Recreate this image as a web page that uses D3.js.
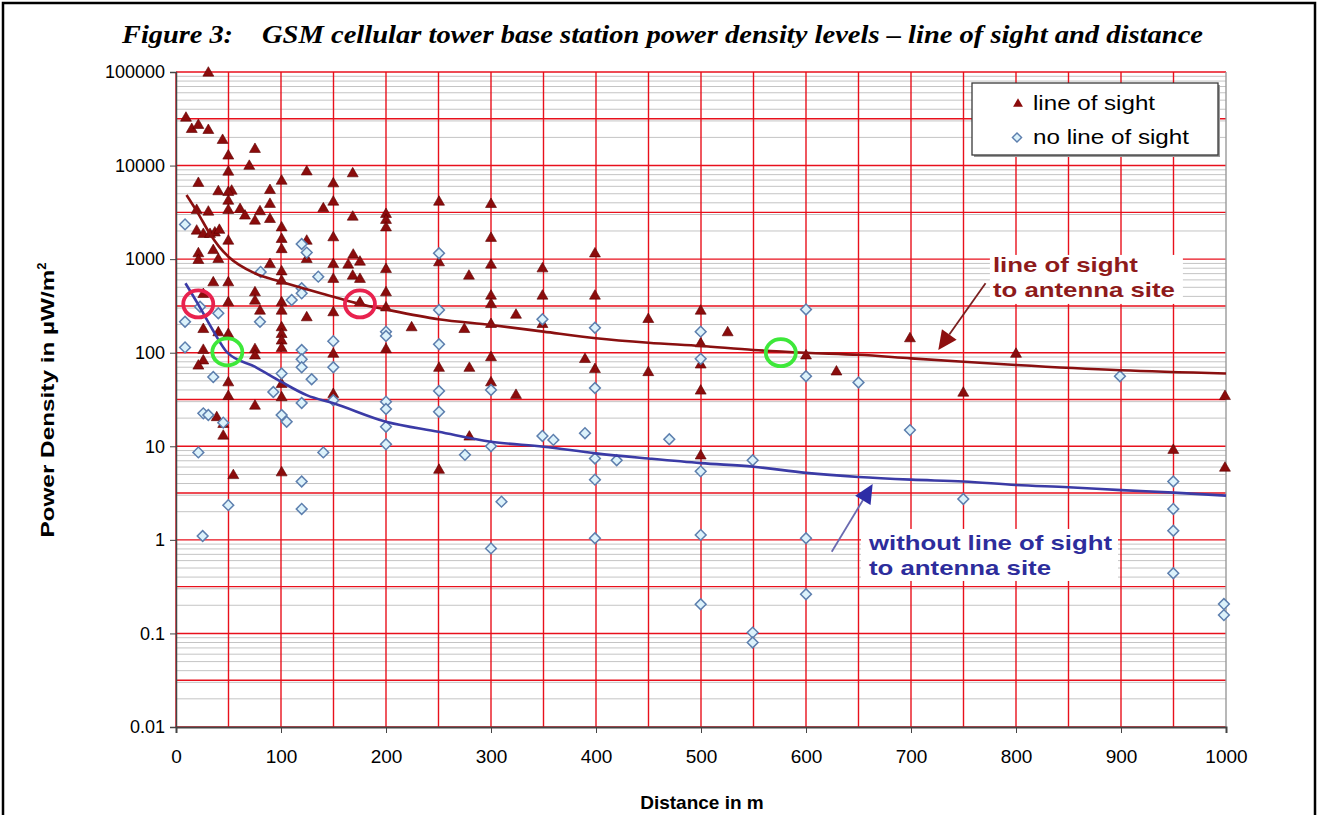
<!DOCTYPE html>
<html><head><meta charset="utf-8">
<script src="https://cdn.jsdelivr.net/npm/d3@7"></script>
<style>body{margin:0;background:#fff}svg{display:block}</style>
</head><body>
<svg id="chart" width="1319" height="815"></svg>
<script>
// ---------- data ----------
const titleLeft = "Figure 3:";
const titleRight = "GSM cellular tower base station power density levels \u2013 line of sight and distance";
const xTicks = [0,100,200,300,400,500,600,700,800,900,1000];
const yTicks = [0.01,0.1,1,10,100,1000,10000,100000];
const yTickLabels = ["0.01","0.1","1","10","100","1000","10000","100000"];
const xGrid = [0,50,100,150,200,250,300,350,400,450,500,550,600,650,700,750,800,850,900,950];

// line of sight (triangles): [distance m, power density µW/m²]
const losPoints = [
 [30.8,100000],[9.5,33000],[15,25000],[21.3,27600],[30.8,24400],[44.4,19100],[49.8,13000],[75.2,15300],
 [49.8,8750],[69.8,10100],[124.5,8800],[168.3,8400],[21.3,6630],[100.6,7000],[149.8,6560],[40.3,5400],
 [53,5480],[49.8,5300],[89.5,5570],[49.8,4280],[89.5,3960],[149.8,4180],[140.3,3550],[19.7,3410],
 [30.8,3270],[49.8,3410],[61,3490],[65.7,2970],[75.2,2620],[80,3300],[89.5,2730],[168.3,2890],
 [200,3090],[200,2670],[200,2220],[100.6,2220],[19.7,2050],[26,1890],[32.4,1890],[37,1960],[41.3,2090],
 [49.8,1600],[100.6,1670],[100.6,1300],[149.8,1740],[124.5,1600],[35.5,1270],[21.3,1175],[21.3,995],
 [40.3,1020],[89.5,900],[124.5,1020],[168.8,1135],[175.2,955],[164,888],[149.8,900],[200,798],[100.6,752],
 [100.6,598],[149.8,625],[168.3,676],[175.2,625],[200,449],[35.5,574],[49.8,574],[75.2,449],[75.2,366],
 [100.6,351],[100.6,286],[49.8,351],[26,431],[80,286],[124.5,243],[149.8,275],[175.2,351],[200,310],
 [224.4,190],[26,182],[40.3,168],[49.8,161],[100.6,190],[100.6,161],[100.6,137],[100.6,114],[200,111],
 [26,109],[75.2,111],[75.2,95],[26,84],[21.3,74],[149.8,99],[49.8,49],[49.8,35],[100.6,47],[100.6,34],
 [75.2,27.6],[149.8,36.8],[38.8,20.8],[45,17.6],[45,13.2],[54.6,5.0],[100.6,5.35],
 [250.5,4180],[300,3950],[300,1715],[399,1170],[250.5,940],[300,888],[349,810],[279,677],[300,414],
 [300,337],[349,414],[399,414],[323.8,259],[349,206],[274.6,182],[300,206],[449.8,233],[499.7,286],
 [525.4,168],[499.7,128],[600,95],[389.5,87],[250.5,70],[279.4,70],[300,91],[399,68],[449.8,63],
 [499.7,76],[300,49],[323.8,36],[499.7,40],[279.4,12.9],[499.7,8.1],[250.5,5.7],
 [699,145],[629,64],[800,99],[749.8,38],[999,35],[949.8,9.3],[999,6.0]
];
// no line of sight (diamonds)
const nlosPoints = [
 [8.6,2350],[119.7,1450],[124.5,1175],[80.6,730],[135.5,650],[119.7,488],[119.7,431],[110.2,366],
 [40.3,264],[80,214],[8.6,214],[22.9,310],[200,168],[200,151],[149.8,133],[8.6,114],[119.7,107],
 [119.7,85],[119.7,70],[149.8,70],[100.6,60],[129.2,52],[35.5,55],[92.7,38],[119.7,29],[149.8,31],
 [200,30],[200,25],[200,16.2],[200,10.5],[26,22.5],[30.8,21.6],[45,17.9],[100.6,21.6],[105.4,18.3],
 [21.3,8.6],[140.3,8.6],[119.7,4.2],[49.8,2.35],[119.7,2.14],[25.4,1.1],
 [250.5,1155],[250.5,286],[250.5,123],[250.5,39],[250.5,23.4],[300,40],[349,228],[399,185],[399,42],
 [499.7,168],[499.7,86],[600,290],[600,56],[275.2,8.1],[300,10],[349,12.9],[359.4,11.7],[389.5,13.8],
 [469.8,11.9],[399,7.4],[419.7,7.1],[549.2,7.1],[399,4.4],[499.7,5.4],[310,2.56],[300,0.81],[399,1.04],
 [499.7,1.13],[600,1.04],[499.7,0.205],[600,0.262],[549.2,0.102],[549.2,0.080],[650,48],[899,56],
 [699,14.9],[949.8,4.2],[749.8,2.73],[949.8,2.14],[949.8,1.25],[949.8,0.44],[998,0.206],[998,0.157]
];
// trend lines
const losTrendX = [10,21,32,41,50,75,100,150,175,200,250,300,350,400,450,500,550,600,650,700,750,800,900,1000];
const losTrendY = [4850,3090,1890,1360,1062,706,574,397,332,290,228,198,168,143,128,118,107,100,95,87,80,74,65,60];
const nlosTrendX = [9,21,35,49,75,100,125,150,200,250,300,350,400,450,500,550,600,650,700,750,800,850,900,950,1000];
const nlosTrendY = [552,330,175,100,71,49,35,28.8,18.3,14.3,11.2,9.9,8.4,7.4,6.6,6.05,5.2,4.7,4.4,4.2,3.86,3.65,3.4,3.2,2.97];
// highlight circles [x, y, colour-key]
const highlights = [[21.2,332,"red"],[175.2,332,"red"],[48.9,102,"green"],[576,100,"green"]];

// ---------- drawing ----------
const svg = d3.select("#chart");
const W = 1319, H = 815;
const SANS = "Liberation Sans, Arial, sans-serif";
const plot = {left:176, right:1226, top:72, bottom:727};
const x = d3.scaleLinear().domain([0,1000]).range([plot.left, plot.right]);
const y = d3.scaleLog().domain([0.01,100000]).range([plot.bottom, plot.top]);

svg.append("rect").attr("width",W).attr("height",H).attr("fill","#fff");
svg.append("rect").attr("x",3).attr("y",3).attr("width",1312).attr("height",840)
  .attr("fill","none").attr("stroke","#000").attr("stroke-width",2.5);

// title
function titleText(s, x0, len){
  svg.append("text").attr("transform",`translate(${x0},43) scale(1,1.2)`).text(s)
    .attr("font-family","Liberation Serif, Times New Roman, serif").attr("font-weight","bold")
    .attr("font-style","italic").attr("font-size",21).attr("textLength",len).attr("lengthAdjust","spacingAndGlyphs");
}
titleText(titleLeft,122,111);
titleText(titleRight,262,941);

const g = svg.append("g");
// minor grey gridlines
const minor = [];
for (let d=-2; d<=4; d++) for (let k=2; k<=9; k++) minor.push(k*Math.pow(10,d));
g.selectAll("line.minor").data(minor).join("line")
  .attr("x1",plot.left).attr("x2",plot.right).attr("y1",d=>y(d)).attr("y2",d=>y(d))
  .attr("stroke","#c4c4c4").attr("stroke-width",1);
// red horizontal gridlines (decades and half decades)
const major = [];
for (let d=-2; d<=5; d++) { major.push(Math.pow(10,d)); if (d<5) major.push(Math.pow(10,d+0.5)); }
g.selectAll("line.majh").data(major).join("line")
  .attr("x1",plot.left).attr("x2",plot.right).attr("y1",d=>y(d)).attr("y2",d=>y(d))
  .attr("stroke","#e8101c").attr("stroke-width",1.4);
// red vertical gridlines
g.selectAll("line.majv").data(xGrid).join("line")
  .attr("x1",d=>x(d)).attr("x2",d=>x(d)).attr("y1",plot.top).attr("y2",plot.bottom)
  .attr("stroke","#e8101c").attr("stroke-width",1.4);
// right border
g.append("line").attr("x1",x(1000)).attr("x2",x(1000)).attr("y1",plot.top).attr("y2",plot.bottom)
  .attr("stroke","#9a9a9a").attr("stroke-width",1.4);

// annotation white boxes (hide grid)
const annLOS = {tx:778, ty:730, lines:["line of sight","to antenna site"], lens:[145,182], color:"#8e1b1b"};
const annNLOS = {tx:660, ty:0.78, lines:["without line of sight","to antenna site"], lens:[243,182], color:"#2d2d9c"};
svg.append("rect").attr("x",x(annLOS.tx)-3).attr("y",y(annLOS.ty)-17).attr("width",193).attr("height",49).attr("fill","#fff");
svg.append("rect").attr("x",x(annNLOS.tx)-8).attr("y",y(annNLOS.ty)-21).attr("width",257).attr("height",52).attr("fill","#fff");

// axes
const yAxis = d3.axisLeft(y).tickValues(yTicks).tickFormat((d,i)=>yTickLabels[i]).tickSize(6).tickPadding(5);
const ya = svg.append("g").attr("transform",`translate(${plot.left},0)`).call(yAxis);
ya.select(".domain").attr("stroke","#444").attr("stroke-width",1.5);
ya.selectAll(".tick line").attr("stroke","#444");
ya.selectAll("text").attr("font-family",SANS).attr("font-size",18).attr("fill","#000");

const xAxis = d3.axisBottom(x).tickValues(xTicks).tickFormat(d3.format("d")).tickSize(6).tickPadding(17);
const xa = svg.append("g").attr("transform",`translate(0,${plot.bottom})`).call(xAxis);
xa.select(".domain").attr("stroke","#444").attr("stroke-width",2);
xa.selectAll(".tick line").attr("stroke","#444");
xa.selectAll("text").attr("font-family",SANS).attr("font-size",19).attr("fill","#000");

// axis titles
svg.append("text").attr("transform","translate(54,400) rotate(-90)").attr("text-anchor","middle")
  .attr("font-family",SANS).attr("font-weight","bold").attr("font-size",18)
  .call(t=>{t.append("tspan").attr("textLength",268).attr("lengthAdjust","spacingAndGlyphs").text("Power Density in \u00b5W/m");
            t.append("tspan").attr("dy",-8).attr("font-size",13).text("2");});
svg.append("text").attr("x",702).attr("y",809).attr("text-anchor","middle")
  .attr("font-family",SANS).attr("font-weight","bold").attr("font-size",19)
  .text("Distance in m");

// markers
const tri = d3.symbol().type(d3.symbolTriangle).size(52);
const sq = d3.symbol().type(d3.symbolSquare).size(58);
svg.append("g").selectAll("path").data(losPoints).join("path")
  .attr("d",tri).attr("transform",d=>`translate(${x(d[0])},${y(d[1])+1})`)
  .attr("fill","#8b0c0c").attr("stroke","#5c0000").attr("stroke-width",0.6);
svg.append("g").selectAll("path").data(nlosPoints).join("path")
  .attr("d",sq).attr("transform",d=>`translate(${x(d[0])},${y(d[1])}) rotate(45)`)
  .attr("fill","#dcf2fb").attr("stroke","#5d7fae").attr("stroke-width",1.5);

// trend lines
const line = d3.line().x(d=>x(d[0])).y(d=>y(d[1])).curve(d3.curveMonotoneX);
svg.append("path").datum(losTrendX.map((v,i)=>[v,losTrendY[i]])).attr("d",line)
  .attr("fill","none").attr("stroke","#8a1010").attr("stroke-width",2.6);
svg.append("path").datum(nlosTrendX.map((v,i)=>[v,nlosTrendY[i]])).attr("d",line)
  .attr("fill","none").attr("stroke","#3b3ba6").attr("stroke-width",2.6);

// highlight circles
svg.append("g").selectAll("ellipse").data(highlights).join("ellipse")
  .attr("cx",d=>x(d[0])).attr("cy",d=>y(d[1])).attr("rx",15).attr("ry",13.5)
  .attr("fill","none").attr("stroke",d=>d[2]==="red"?"#e8224e":"#3ee83a").attr("stroke-width",3.8);

// annotation texts
function annText(a){
  const t = svg.append("text").attr("font-family",SANS).attr("font-weight","bold")
    .attr("font-size",21).attr("fill",a.color);
  a.lines.forEach((s,i)=>t.append("tspan").attr("x",x(a.tx)).attr("y",y(a.ty)+i*25)
    .attr("textLength",a.lens[i]).attr("lengthAdjust","spacingAndGlyphs").text(s));
}
annText(annLOS); annText(annNLOS);

// arrows [tail x, tail y, tip x, tip y] in data units
const arrows = [
  {tail:[771,552], tip:[726,107], line:"#7a2020", head:"#8e1010"},
  {tail:[624.5,0.746], tip:[663.5,3.95], line:"#6a6ab0", head:"#2d2da6"}
];
arrows.forEach(a=>{
  const x1=x(a.tail[0]), y1=y(a.tail[1]), x2=x(a.tip[0]), y2=y(a.tip[1]);
  const dx=x2-x1, dy=y2-y1, L=Math.hypot(dx,dy), ux=dx/L, uy=dy/L;
  const hl=19, hw=9;
  const bx=x2-ux*hl, by=y2-uy*hl;
  svg.append("line").attr("x1",x1).attr("y1",y1).attr("x2",bx).attr("y2",by)
    .attr("stroke",a.line).attr("stroke-width",1.8);
  svg.append("path").attr("d",`M${x2},${y2}L${bx-uy*hw},${by+ux*hw}L${bx+uy*hw},${by-ux*hw}Z`).attr("fill",a.head);
});

// legend
const lg = svg.append("g");
lg.append("rect").attr("x",974).attr("y",85).attr("width",246).attr("height",72).attr("fill","#9a9a9a");
lg.append("rect").attr("x",972).attr("y",83).attr("width",246).attr("height",72).attr("fill","#fff")
  .attr("stroke","#3a3a3a").attr("stroke-width",1.3);
lg.append("path").attr("d",d3.symbol().type(d3.symbolTriangle).size(42)).attr("transform","translate(1018,104)").attr("fill","#8b0c0c");
lg.append("path").attr("d",d3.symbol().type(d3.symbolSquare).size(42)).attr("transform","translate(1017,137.5) rotate(45)")
  .attr("fill","#dcf2fb").attr("stroke","#5d7fae").attr("stroke-width",1.4);
lg.append("text").attr("x",1033).attr("y",110).text("line of sight").attr("textLength",122).attr("lengthAdjust","spacingAndGlyphs")
  .attr("font-family",SANS).attr("font-size",20);
lg.append("text").attr("x",1033).attr("y",144).text("no line of sight").attr("textLength",156).attr("lengthAdjust","spacingAndGlyphs")
  .attr("font-family",SANS).attr("font-size",20);
</script>
</body></html>
